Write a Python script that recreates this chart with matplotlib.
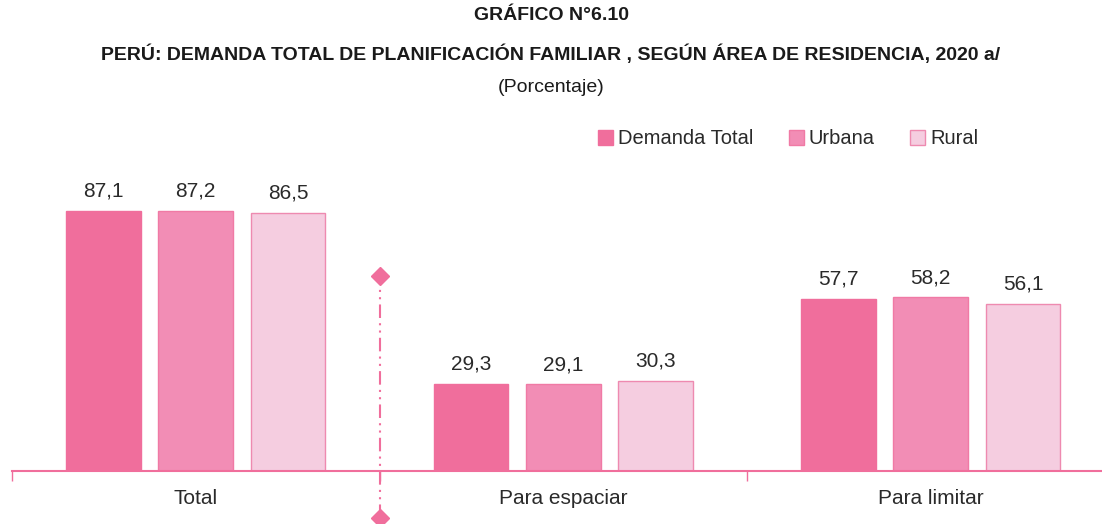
import numpy as np
import matplotlib
matplotlib.use("Agg")
from matplotlib import pyplot as plt
from matplotlib import font_manager as fm

# data
categories = ["Total", "Para espaciar", "Para limitar"]
series = ["Demanda Total", "Urbana", "Rural"]
demanda_total = [87.1, 29.3, 57.7]
urbana = [87.2, 29.1, 58.2]
rural = [86.5, 30.3, 56.1]

names = {f.name for f in fm.fontManager.ttflist}
narrow = "Liberation Sans Narrow" if "Liberation Sans Narrow" in names else "Liberation Sans"
plt.rcParams['font.family'] = ["Liberation Sans", "DejaVu Sans"]

pink = "#F06E9C"
fills = ["#F06E9C", "#F28DB5", "#F5CDE0"]
edges = ["#F06E9C", "#F07AA5", "#EE8AB0"]

fig = plt.figure(figsize=(11.02, 5.24), dpi=100)
ax = fig.add_axes([12 / 1102, 53 / 524, 1102.5 / 1102, 298.5 / 524])

x = np.arange(len(categories))
w = 0.204
step = 0.251
for i, (vals, lab) in enumerate(zip([demanda_total, urbana, rural], series)):
    pos = x + (i - 1) * step
    ax.bar(pos, vals, width=w, color=fills[i], edgecolor=edges[i], linewidth=1, label=lab, zorder=2)
    for px, v in zip(pos, vals):
        ax.text(px, v + 4.7, f"{v:.1f}".replace(".", ","), ha="center", va="baseline",
                fontsize=15, family=[narrow, "DejaVu Sans"], color="#2a2a2a")

ax.set_xlim(-0.5, 2.5)
ax.set_ylim(0, 100)
for s in ["top", "right", "left"]:
    ax.spines[s].set_visible(False)
ax.spines["bottom"].set_color(pink)
ax.spines["bottom"].set_linewidth(1.5)
ax.set_yticks([])
ax.set_xticks(x)
ax.set_xticklabels(categories, fontsize=15, family=[narrow, "DejaVu Sans"], color="#2a2a2a")
ax.tick_params(axis="x", which="major", length=0, pad=13)
ax.set_xticks([-0.5, 0.5, 1.5], minor=True)
ax.tick_params(axis="x", which="minor", length=7, color=pink, width=1)

# separator line with diamond ends
ax.plot([0.5, 0.5], [-15.7, 65.3], color=pink, linestyle=(0, (6.5, 2.5, 1, 2.5, 1, 2.5)),
        linewidth=1.5, clip_on=False, zorder=3)
ax.plot([0.5, 0.5], [-15.7, 65.3], linestyle="None", marker="D", markersize=9.5, color=pink,
        clip_on=False, zorder=3)

leg = fig.legend(loc="center", bbox_to_anchor=(788 / 1102, 1 - 139 / 524), ncol=3, frameon=False,
                 fontsize=14.5, handlelength=0.75, handleheight=0.75, handletextpad=0.25,
                 columnspacing=1.75)
for t in leg.get_texts():
    t.set_color("#2a2a2a")

fig.text(0.5, 1 - 15 / 524, "GRÁFICO N°6.10", ha="center", va="center", fontsize=14,
         fontweight="bold", family=[narrow, "DejaVu Sans"], color="#1a1a1a")
fig.text(0.5, 1 - 54 / 524,
         "PERÚ: DEMANDA TOTAL DE PLANIFICACIÓN FAMILIAR , SEGÚN ÁREA DE RESIDENCIA, 2020 a/",
         ha="center", va="center", fontsize=14, fontweight="bold", family=[narrow, "DejaVu Sans"],
         color="#1a1a1a")
fig.text(0.5, 1 - 87 / 524, "(Porcentaje)", ha="center", va="center", fontsize=14,
         family=[narrow, "DejaVu Sans"], color="#1a1a1a")

plt.savefig("out.png", dpi=100)
